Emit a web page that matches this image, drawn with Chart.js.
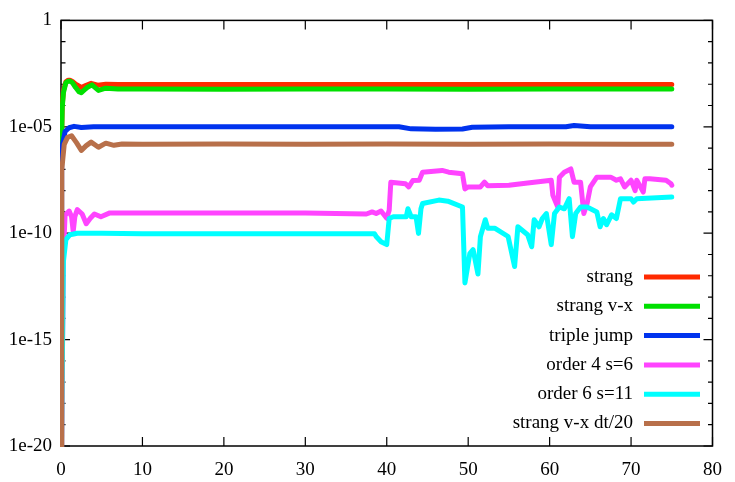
<!DOCTYPE html>
<html>
<head>
<meta charset="utf-8">
<script src="https://cdn.jsdelivr.net/npm/chart.js@4/dist/chart.umd.min.js"></script>
<style>
  html, body { margin: 0; padding: 0; background: #fff; }
  canvas { display: block; }
</style>
</head>
<body>
<canvas id="grafico" width="735" height="482"></canvas>
<script>
// ticks
const xTicks = [0, 10, 20, 30, 40, 50, 60, 70, 80];
const yTicks = [1e-20, 1e-15, 1e-10, 1e-5, 1];
const yTickLabels = ["1e-20", "1e-15", "1e-10", "1e-05", "1"];

const seriesNames = ["strang", "strang v-x", "triple jump", "order 4 s=6", "order 6 s=11", "strang v-x dt/20"];
const seriesColors = ["#ff2a00", "#00e000", "#0033ee", "#ff44ff", "#00ffff", "#b8704a"];

// strang
const strangX = [0, 0.05, 0.15, 0.3, 0.6, 0.9, 1.1, 1.4, 1.8, 2.5, 3.1, 3.7, 4.5, 5.5, 7, 10, 20, 30, 40, 50, 60, 70, 75];
const strangY = [1e-22, 1e-6, 1e-4, 5e-4, 1.3e-3, 1.55e-3, 1.55e-3, 1.35e-3, 1.0e-3, 7e-4, 9e-4, 1.1e-3, 9e-4, 1.0e-3, 9.6e-4, 9.6e-4, 9.6e-4, 9.7e-4, 9.6e-4, 9.6e-4, 9.7e-4, 9.6e-4, 9.6e-4];

// strang v-x
const vxX = [0, 0.05, 0.15, 0.3, 0.6, 0.9, 1.1, 1.4, 1.8, 2.2, 2.5, 2.9, 3.2, 3.8, 4.6, 5.5, 7, 10, 20, 30, 40, 50, 60, 70, 75];
const vxY = [1e-22, 1e-6, 8e-5, 4e-4, 1.2e-3, 1.4e-3, 1.4e-3, 1.2e-3, 7e-4, 4.5e-4, 4.0e-4, 5.5e-4, 7e-4, 9.3e-4, 5.1e-4, 6.5e-4, 5.9e-4, 5.9e-4, 5.8e-4, 6.0e-4, 5.9e-4, 5.8e-4, 5.9e-4, 5.9e-4, 5.9e-4];

// triple jump
const tjX = [0, 0.08, 0.2, 0.5, 1.0, 1.6, 2.5, 4, 10, 20, 30, 38, 41.5, 43, 46, 49.3, 50.5, 55, 58, 62, 63, 65, 70, 75];
const tjY = [1e-22, 3e-7, 1.6e-6, 6e-6, 9e-6, 1.05e-5, 9.2e-6, 1.0e-5, 1.0e-5, 1.0e-5, 1.0e-5, 1.0e-5, 1.0e-5, 8e-6, 7.7e-6, 7.9e-6, 9.5e-6, 1.0e-5, 1.0e-5, 1.0e-5, 1.15e-5, 1.0e-5, 1.0e-5, 1.0e-5];

// order 4 s=6
const o4X = [0, 0.3, 0.5, 1.0, 1.3, 1.5, 1.7, 2.0, 2.6, 3.1, 3.6, 4.1, 4.9, 6, 10, 20, 30, 37.5, 38.2, 38.7, 39.3, 40.0, 40.3, 40.5, 42.3, 42.7, 43.2, 44.0, 44.4, 46.8, 47.6, 49.3, 49.6, 50.0, 51.5, 52.0, 52.4, 55, 57.3, 60.2, 60.4, 61.0, 61.2, 61.8, 62.6, 63.0, 63.8, 64.2, 64.6, 65.0, 65.8, 67.5, 68.2, 68.7, 69.2, 70.0, 70.5, 70.7, 71.5, 71.7, 72.3, 74.3, 74.9, 75.0];
const o4Y = [1e-22, 1e-11, 7e-10, 1.1e-9, 6e-10, 1.2e-10, 6e-10, 1.3e-9, 8e-10, 2.8e-10, 5e-10, 8e-10, 5.9e-10, 9e-10, 9e-10, 9e-10, 9e-10, 8e-10, 1.0e-9, 8.4e-10, 1.1e-9, 5e-10, 1.2e-9, 2.5e-8, 2.1e-8, 1.5e-8, 3e-8, 3.1e-8, 7.4e-8, 8.9e-8, 7.4e-8, 6.2e-8, 1.2e-8, 1.5e-8, 1.5e-8, 2.5e-8, 1.7e-8, 1.8e-8, 2.3e-8, 3.1e-8, 6e-9, 1.7e-9, 4.3e-8, 7.4e-8, 1.05e-7, 2.5e-8, 2.5e-8, 8.4e-10, 2.5e-9, 1.5e-8, 4.3e-8, 4.3e-8, 3.1e-8, 3.6e-8, 1.5e-8, 3.1e-8, 1.0e-8, 3.1e-8, 8.6e-9, 3.6e-8, 3.6e-8, 3.1e-8, 2.1e-8, 1.8e-8];

// order 6 s=11
const o6X = [0, 0.3, 0.6, 1.1, 2, 5, 10, 20, 30, 38.5, 38.7, 39.3, 40.0, 40.3, 40.8, 42.4, 42.6, 43.0, 43.6, 43.9, 44.2, 44.4, 46.4, 47.5, 49.3, 49.6, 50.2, 50.6, 51.2, 51.5, 52.1, 52.4, 53.3, 54.9, 55.7, 56.1, 57.3, 57.8, 58.1, 58.7, 59.1, 59.6, 60.2, 60.6, 61.2, 61.8, 62.4, 62.8, 63.2, 63.8, 64.6, 65.8, 66.2, 66.6, 67.0, 67.6, 68.2, 68.7, 70.0, 70.3, 70.7, 75.0];
const o6Y = [1e-22, 4.7e-12, 5e-11, 8.5e-11, 1.0e-10, 1.0e-10, 9.5e-11, 9.5e-11, 9.5e-11, 9.5e-11, 7e-11, 4e-11, 2.9e-11, 4.9e-10, 5.9e-10, 5.9e-10, 1.4e-9, 5.9e-10, 5.9e-10, 9.8e-11, 1.4e-9, 2.5e-9, 3.6e-9, 3.2e-9, 1.7e-9, 4.6e-13, 1.1e-11, 1.7e-11, 1.2e-12, 6.9e-11, 4.3e-10, 1.7e-10, 1.7e-10, 7e-11, 2.7e-12, 2.0e-10, 8.5e-11, 2.3e-11, 4.3e-10, 2.0e-10, 4.9e-10, 8.4e-10, 2.9e-11, 8.4e-10, 1.7e-9, 1.4e-9, 4.2e-9, 6.9e-11, 8.4e-10, 1.7e-9, 1.7e-9, 1.0e-9, 2.0e-10, 4.9e-10, 2.5e-10, 7.3e-10, 4.9e-10, 4.2e-9, 4.2e-9, 2.9e-9, 4.2e-9, 5.0e-9];

// strang v-x dt/20
const dt20X = [0, 0.1, 0.4, 0.8, 1.3, 1.9, 2.5, 3.1, 3.7, 4.6, 5.5, 6.5, 7.5, 10, 20, 30, 40, 50, 60, 70, 75];
const dt20Y = [1e-22, 1e-7, 1.5e-6, 3.2e-6, 3.8e-6, 1.8e-6, 7.8e-7, 1.3e-6, 1.9e-6, 1.1e-6, 1.7e-6, 1.35e-6, 1.55e-6, 1.5e-6, 1.55e-6, 1.5e-6, 1.55e-6, 1.5e-6, 1.55e-6, 1.5e-6, 1.5e-6];

const xs = [strangX, vxX, tjX, o4X, o6X, dt20X];
const ys = [strangY, vxY, tjY, o4Y, o6Y, dt20Y];

const fonte = "19px 'Liberation Serif', 'DejaVu Serif', serif";

// moldura e marcas de escala estilo gnuplot
const molduraPlugin = {
  id: "moldura",
  beforeDatasetsDraw(chart) {
    const { ctx, chartArea: a, scales } = chart;
    ctx.save();
    ctx.strokeStyle = "#000";
    ctx.lineWidth = 1.5;
    ctx.strokeRect(a.left, a.top, a.right - a.left, a.bottom - a.top);
    ctx.lineWidth = 1.2;
    ctx.beginPath();
    xTicks.forEach((v) => {
      const px = scales.x.getPixelForValue(v);
      ctx.moveTo(px, a.bottom);
      ctx.lineTo(px, a.bottom - 9);
      ctx.moveTo(px, a.top);
      ctx.lineTo(px, a.top + 9);
    });
    for (let e = -20; e <= 0; e++) {
      const py = scales.y.getPixelForValue(Math.pow(10, e));
      const len = e % 5 === 0 ? 9 : 4.5;
      ctx.moveTo(a.left, py);
      ctx.lineTo(a.left + len, py);
      ctx.moveTo(a.right, py);
      ctx.lineTo(a.right - len, py);
    }
    ctx.stroke();
    ctx.restore();
  },
  afterDraw(chart) {
    const { ctx } = chart;
    ctx.save();
    ctx.font = fonte;
    ctx.textAlign = "right";
    ctx.textBaseline = "middle";
    seriesNames.forEach((nome, i) => {
      const y = 277 + i * 29.3;
      ctx.fillStyle = "#000";
      ctx.fillText(nome, 633, y);
      ctx.strokeStyle = seriesColors[i];
      ctx.lineWidth = 5;
      ctx.beginPath();
      ctx.moveTo(644, y);
      ctx.lineTo(700, y);
      ctx.stroke();
    });
    ctx.restore();
  },
};

new Chart(document.getElementById("grafico"), {
  type: "line",
  data: {
    datasets: seriesNames.map((nome, i) => ({
      label: nome,
      data: xs[i].map((x, j) => ({ x, y: ys[i][j] })),
      borderColor: seriesColors[i],
      borderWidth: 5,
      borderJoinStyle: "round",
      borderCapStyle: "round",
      pointRadius: 0,
      tension: 0,
      fill: false,
      clip: 1,
      order: seriesNames.length - i,
    })),
  },
  options: {
    responsive: false,
    animation: false,
    devicePixelRatio: 1,
    layout: { padding: { top: 17, right: 15, left: 0, bottom: 0 } },
    plugins: { legend: { display: false }, tooltip: { enabled: false } },
    scales: {
      x: {
        type: "linear",
        min: 0,
        max: 80,
        grid: { display: false, drawTicks: false },
        border: { display: false },
        afterBuildTicks: (s) => { s.ticks = xTicks.map((v) => ({ value: v })); },
        afterFit: (s) => { s.height = 36; },
        ticks: {
          color: "#000",
          padding: 13,
          maxRotation: 0,
          font: { family: "'Liberation Serif', serif", size: 19 },
          callback: (v) => String(v),
        },
      },
      y: {
        type: "logarithmic",
        min: 1e-20,
        max: 1,
        grid: { display: false, drawTicks: false },
        border: { display: false },
        afterBuildTicks: (s) => { s.ticks = yTicks.map((v) => ({ value: v })); },
        afterFit: (s) => { s.width = 61; },
        ticks: {
          color: "#000",
          padding: 9,
          font: { family: "'Liberation Serif', serif", size: 19 },
          callback: (v, i) => yTickLabels[i],
        },
      },
    },
  },
  plugins: [molduraPlugin],
});
</script>
</body>
</html>
